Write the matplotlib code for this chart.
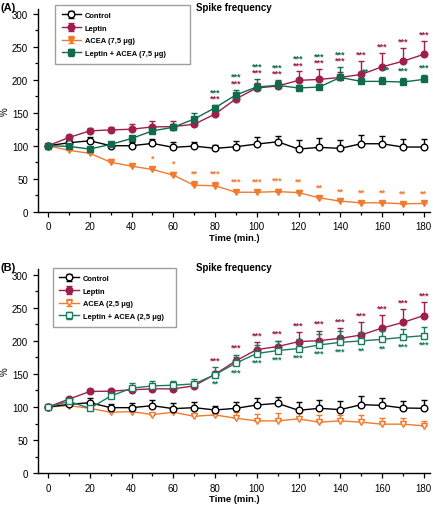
import numpy as np
import matplotlib
matplotlib.use('Agg')
import matplotlib.pyplot as plt

plt.rcParams['font.family'] = ['Liberation Sans', 'DejaVu Sans']

# ---- data ----
time = [0, 10, 20, 30, 40, 50, 60, 70, 80, 90, 100, 110, 120, 130, 140, 150, 160, 170, 180]

# panel A: ACEA 7,5 ug
ctrl_a     = [100, 104.5, 107.5, 100, 100, 103.5, 97.5, 99.5, 96, 98.5, 102.5, 106, 95, 97.5, 96, 103, 103, 98, 98]
ctrl_a_err = [0, 4, 6, 4, 5, 7, 8, 6.5, 5.5, 8.5, 10, 9, 14, 14, 13, 13, 12, 12, 12]
lept_a     = [100, 112.5, 122.5, 124, 125, 128.5, 129, 132.5, 148, 171, 187.5, 190.5, 199, 200.5, 203.5, 208, 219.5, 228, 238.5]
lept_a_err = [0, 3, 4, 5, 8, 9, 9, 6, 5, 5, 8, 8, 14, 16, 8, 20, 21, 20, 20]
acea_a     = [100, 93, 88.5, 75, 69, 64, 55.5, 40, 39.5, 29.5, 29.5, 30.5, 29, 21, 16, 13.5, 13.5, 12, 12.5]
acea_a_err = [0, 3, 3, 4.5, 4, 4, 5, 6, 6, 4, 4, 4, 4, 3, 3, 3, 3, 3, 3]
comb_a     = [100, 99, 95, 102, 111, 122.5, 128, 140.5, 157.5, 177, 189, 191.5, 187.5, 189, 203.5, 197.5, 197.5, 196.5, 200.5]
comb_a_err = [0, 3, 3, 4, 4, 5, 5, 8.5, 4, 8, 12, 8, 5, 5, 16, 4, 7, 6, 7]

# panel B: ACEA 2,5 ug
ctrl_b     = [100, 104, 106.5, 99, 99, 102, 97.5, 99, 95.5, 98, 103, 105.5, 95, 98, 96, 103.5, 102.5, 98.5, 98]
ctrl_b_err = [0, 4, 6.5, 5, 6.5, 8.5, 9, 8, 5.5, 9, 10.5, 10, 12.5, 13, 12.5, 12.5, 11.5, 10.5, 12.5]
lept_b     = [100, 112, 123.5, 124, 126, 127.5, 127.5, 132, 149.5, 170, 187, 191.5, 199, 200.5, 204, 209, 219.5, 228, 238.5]
lept_b_err = [0, 3, 4, 4, 5, 5, 5, 6, 5, 5, 11, 9, 14, 15, 15.5, 19, 20, 20, 20]
acea_b     = [100, 102, 98, 92, 93, 88.5, 92, 86, 88, 83, 79, 79, 82, 77, 79, 77, 74, 74, 71.5]
acea_b_err = [0, 3, 3, 3, 3, 3, 3, 5, 5, 9, 11, 12, 9, 11, 9, 11, 9, 9, 7]
comb_b     = [100, 108.5, 98, 116.5, 128.5, 132, 133, 135, 149, 166.5, 181, 185.5, 188.5, 194, 198, 200, 202.5, 205.5, 208]
comb_b_err = [0, 4, 3, 5, 8, 7, 7, 8, 11, 13, 13, 15, 14, 16, 16.5, 14, 13, 12, 12.5]

# significance marks
stars_a_lept  = ['***'] * 11                     # t = 80..180
stars_a_comb  = ['***'] * 7 + ['**', '**', '***', '***']
stars_a_acea  = ['*', '*', '**', '***', '***', '***', '***', '**', '**', '**', '**', '**', '**', '**']  # t = 50..180
stars_b_lept  = ['***'] * 11
stars_b_comb  = ['**', '***', '***', '***', '***', '***', '***', '**', '**', '***', '***']

C_CTRL = 'black'
C_LEPT = '#9E1F4E'
C_ACEA = '#F27A2E'
C_COMB = '#106A4C'
C_COMB_B = '#1C7A5E'


def series(ax, y, err, color, marker, face, label, z):
    y = np.array(y)
    err = np.array(err)
    ax.errorbar(time, y, yerr=[np.zeros_like(err), err], color=color, lw=1.0,
                marker=marker, ms=4.8, mfc=face, mec=color, mew=1.0,
                capsize=2.4, capthick=1.0, elinewidth=1.0, label=label, zorder=z)


def stars(ax, times, labels, ys, color):
    for t, s, y in zip(times, labels, ys):
        ax.text(t, y, s, color=color, fontsize=6.5, fontweight='bold',
                ha='center', va='center', zorder=10)


def style(ax, tag, ylim_top):
    ax.set_xlim(-5, 183)
    ax.set_ylim(0, ylim_top)
    ax.spines['top'].set_visible(False)
    ax.spines['right'].set_visible(False)
    ax.set_xticks(np.arange(0, 181, 20))
    ax.set_xticks(np.arange(0, 181, 10), minor=True)
    ax.set_yticks(np.arange(0, 301, 50))
    ax.set_yticks(np.arange(25, 301, 50), minor=True)
    ax.tick_params(labelsize=7, length=3.5, width=0.9)
    ax.tick_params(which='minor', length=2.5, width=0.9)
    for sp in ['left', 'bottom']:
        ax.spines[sp].set_linewidth(1.0)
    ax.set_xlabel('Time (min.)', fontsize=6.8, fontweight='bold', labelpad=1)
    ax.set_ylabel('%', fontsize=7)
    ax.yaxis.set_label_coords(-0.072, 0.5)
    ax.text(0.5, 1.008, 'Spike frequency', transform=ax.transAxes, fontsize=7,
            fontweight='bold', ha='center', va='center')
    ax.text(-0.094, 1.01, tag, transform=ax.transAxes, fontsize=8, fontweight='bold',
            ha='left', va='center')


def legend(ax, x0, top, width):
    ax.legend(loc='upper left', bbox_to_anchor=(x0, top - 0.1, width, 0.1), mode='expand',
              borderaxespad=0, prop={'weight': 'bold', 'size': 5.4}, frameon=True,
              fancybox=False, edgecolor='#888888', handlelength=2.6, handletextpad=0.5,
              borderpad=0.9, labelspacing=0.72)


fig = plt.figure(figsize=(4.33, 5.06), dpi=100)
ax_a = fig.add_axes([0.087, 0.5796, 0.906, 0.4004])
ax_b = fig.add_axes([0.087, 0.0632, 0.906, 0.4032])

# ---- panel A ----
series(ax_a, ctrl_a, ctrl_a_err, C_CTRL, 'o', 'white', 'Control', 4)
series(ax_a, lept_a, lept_a_err, C_LEPT, 'o', C_LEPT, 'Leptin', 5)
series(ax_a, acea_a, acea_a_err, C_ACEA, 'v', C_ACEA, 'ACEA (7,5 μg)', 3)
series(ax_a, comb_a, comb_a_err, C_COMB, 's', C_COMB, 'Leptin + ACEA (7,5 μg)', 6)

t_sig = time[8:]
top_l = np.array(lept_a[8:]) + np.array(lept_a_err[8:])
top_c = np.array(comb_a[8:]) + np.array(comb_a_err[8:])
both = np.maximum(top_l, top_c)
# up to 140 min both rows are stacked above the higher bar, later each sits on its own bar
y_lept = np.where(np.array(t_sig) <= 140, both + 10, top_l + 11)
y_comb = np.where(np.array(t_sig) <= 140, both + 20, top_c + 12)
x_comb = [t + 2 if t in (150, 160) else t for t in t_sig]
stars(ax_a, t_sig, stars_a_lept, y_lept, C_LEPT)
stars(ax_a, x_comb, stars_a_comb, y_comb, C_COMB)
stars(ax_a, time[5:], stars_a_acea,
      np.array(acea_a[5:]) + np.array(acea_a_err[5:]) + 13, C_ACEA)

style(ax_a, '(A)', 307)
legend(ax_a, 0.044, 1.02, 0.344)

# ---- panel B ----
series(ax_b, ctrl_b, ctrl_b_err, C_CTRL, 'o', 'white', 'Control', 4)
series(ax_b, lept_b, lept_b_err, C_LEPT, 'o', C_LEPT, 'Leptin', 5)
series(ax_b, acea_b, acea_b_err, C_ACEA, 'v', 'white', 'ACEA (2,5 μg)', 3)
series(ax_b, comb_b, comb_b_err, C_COMB_B, 's', 'white', 'Leptin + ACEA (2,5 μg)', 6)

top_lb = np.array(lept_b[8:]) + np.array(lept_b_err[8:])
top_cb = np.array(comb_b[8:]) + np.array(comb_b_err[8:])
stars(ax_b, t_sig, stars_b_lept, np.maximum(top_lb, top_cb) + 11, C_LEPT)
stars(ax_b, t_sig, stars_b_comb, np.array(comb_b[8:]) - 13, C_COMB_B)

style(ax_b, '(B)', 309)
legend(ax_b, 0.038, 1.005, 0.314)

fig.savefig('out.png', dpi=100)
